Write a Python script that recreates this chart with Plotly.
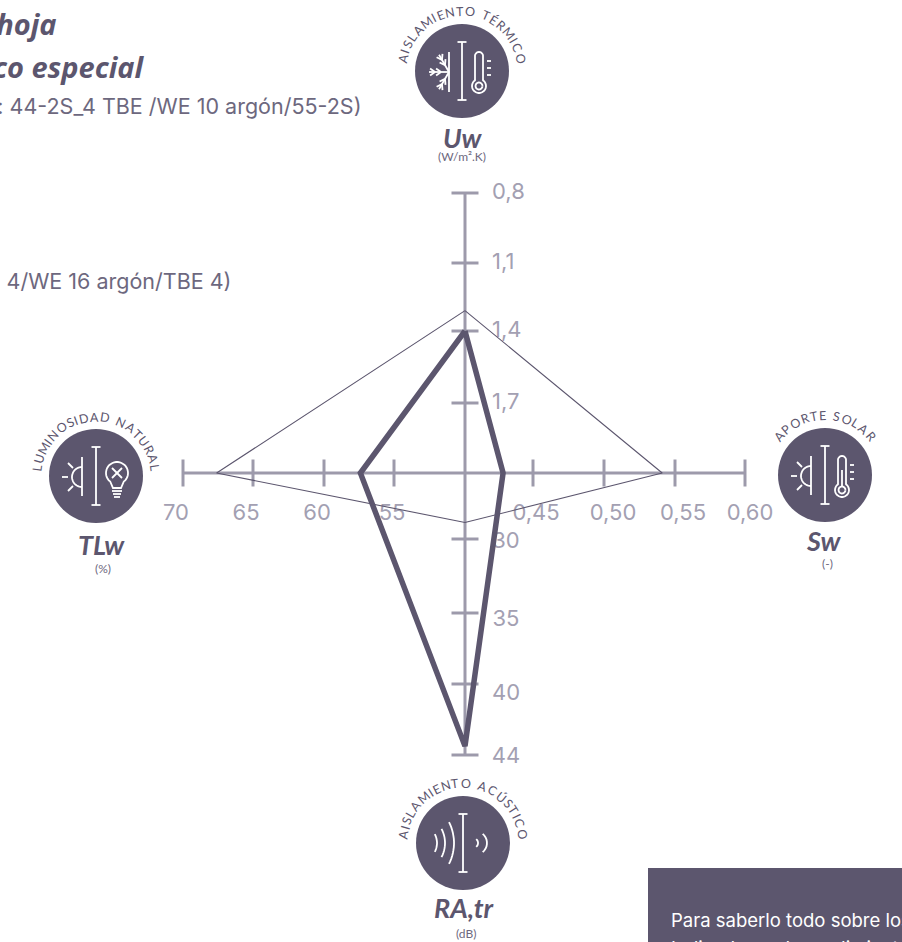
import numpy as np
import plotly.graph_objects as go

# ---------- data ----------
AXES = ["Uw", "Sw", "RA,tr", "TLw"]
UW_TICKS = [0.8, 1.1, 1.4, 1.7]
SW_TICKS = [0.45, 0.50, 0.55, 0.60]
RA_TICKS = [30, 35, 40, 44]
TL_TICKS = [55, 60, 65, 70]
UW_LABELS = ["0,8", "1,1", "1,4", "1,7"]
SW_LABELS = ["0,45", "0,50", "0,55", "0,60"]
RA_LABELS = ["30", "35", "40", "44"]
TL_LABELS = ["55", "60", "65", "70"]
# values in order Uw, Sw, RA,tr, TLw
SPECIAL = [1.40, 0.428, 43.5, 57.4]
STANDARD = [1.31, 0.541, 28.9, 67.6]

# ---------- scales: value -> distance from the centre (px) ----------
def r_uw(v): return float(np.interp(-v, [-2.0, -1.7, -1.4, -1.1, -0.8], [0, 70, 142, 210, 280]))
def r_sw(v): return float(np.interp(v, [0.40, 0.45, 0.50, 0.55, 0.60], [0, 68, 139, 210, 280]))
def r_ra(v): return float(np.interp(v, [25.6, 30, 35, 40, 44], [0, 66, 140, 211, 282]))
def r_tl(v): return float(np.interp(v, [50, 55, 60, 65, 70], [0, 71, 141, 212, 282]))

CX, CY = 465, 473
W, H = 902, 942
DARK = "#5c566e"
AXIS = "#9d9aab"
LABEL = "#a3a0b2"
TEXT = "#6d687e"

def PX(px): return px - CX
def PY(py): return CY - py

def polygon(vals):
    u, s, ra, t = vals
    xs = [0, r_sw(s), 0, -r_tl(t), 0]
    ys = [r_uw(u), 0, -r_ra(ra), 0, r_uw(u)]
    return xs, ys

fig = go.Figure()

def seg(xs, ys, width=3, color=AXIS):
    fig.add_trace(go.Scatter(x=xs, y=ys, mode="lines", line=dict(color=color, width=width),
                             hoverinfo="skip", showlegend=False))

# axes
seg([-r_tl(70), r_sw(0.60)], [0, 0])
seg([0, 0], [-r_ra(44), r_uw(0.8)])
TL = 13.5
for v in UW_TICKS: seg([-TL, TL], [r_uw(v), r_uw(v)])
for v in RA_TICKS: seg([-TL, TL], [-r_ra(v), -r_ra(v)])
for v in SW_TICKS: seg([r_sw(v), r_sw(v)], [-TL, TL])
for v in TL_TICKS: seg([-r_tl(v), -r_tl(v)], [-TL, TL])

# tick labels
def labels(xs, ys, texts, pos="middle center"):
    fig.add_trace(go.Scatter(x=xs, y=ys, mode="text", text=texts, textposition=pos,
                             textfont=dict(family="Inter", size=22, color=LABEL),
                             hoverinfo="skip", showlegend=False))

labels([27] * 4, [r_uw(v) for v in UW_TICKS], UW_LABELS, "middle right")
labels([r_sw(v) + d for v, d in zip(SW_TICKS, [3, 9, 8, 5])], [-41] * 4, SW_LABELS)
labels([41] * 4, [-r_ra(v) - d for v, d in zip(RA_TICKS, [3, 7, 10, 2])], RA_LABELS)
labels([-r_tl(v) - 2 - d for v, d in zip(TL_TICKS, [0, 5, 5, 5])], [-41] * 4, TL_LABELS)

# series
x, y = polygon(STANDARD)
fig.add_trace(go.Scatter(x=x, y=y, mode="lines", line=dict(color=DARK, width=1.1), name="Estándar",
                         showlegend=False, hoverinfo="skip"))
x, y = polygon(SPECIAL)
fig.add_trace(go.Scatter(x=x, y=y, mode="lines", line=dict(color=DARK, width=5.5), name="Especial",
                         showlegend=False, hoverinfo="skip"))

# ---------- icon helpers (offsets in px from the badge centre, y down) ----------
shapes = []
def path(d, width=1.8, color="white"):
    shapes.append(dict(type="path", path=d, xref="x", yref="y", line=dict(color=color, width=width), layer="above"))

def pl(cx, cy, pts, close=False):
    d = "M" + " L".join(f"{PX(cx+a):.1f},{PY(cy+b):.1f}" for a, b in pts)
    path(d + (" Z" if close else ""))

def arc(cx, cy, ox, oy, r, a0, a1, n=24):
    t = np.radians(np.linspace(a0, a1, n))
    pl(cx, cy, [(ox + r * np.cos(i), oy + r * np.sin(i)) for i in t])

def badge(cx, cy, r=47):
    shapes.append(dict(type="circle", xref="x", yref="y", x0=PX(cx - r), x1=PX(cx + r), y0=PY(cy + r), y1=PY(cy - r),
                       fillcolor=DARK, line=dict(width=0), layer="above"))
    pl(cx, cy, [(0, -29), (0, 29)])
    pl(cx, cy, [(-4.5, -29), (4.5, -29)])
    pl(cx, cy, [(-4.5, 29), (4.5, 29)])

def sun(cx, cy):
    pl(cx, cy, [(-14, -19), (-14, 20)])
    arc(cx, cy, -14, 1, 10, 90, 270)
    pl(cx, cy, [(-34, 1), (-28, 1)])
    pl(cx, cy, [(-28, -13), (-23, -8)])
    pl(cx, cy, [(-28, 15), (-23, 10)])

def thermo(cx, cy, ox, fill=False):
    arc(cx, cy, ox, -15, 4, 180, 360)
    arc(cx, cy, ox, 15, 7, -60, 240, 30)
    pl(cx, cy, [(ox - 4, -15), (ox - 4, 9)])
    pl(cx, cy, [(ox + 4, -15), (ox + 4, 9)])
    arc(cx, cy, ox, 15, 3.5, 0, 360, 16)
    pl(cx, cy, [(ox + 8, -10), (ox + 12, -10)])
    pl(cx, cy, [(ox + 8, -3), (ox + 12, -3)])
    pl(cx, cy, [(ox + 8, 4), (ox + 12, 4)])
    if fill:
        pl(cx, cy, [(ox, -5), (ox, 11)])

def snow(cx, cy):
    hy = 1
    pl(cx, cy, [(-13, -19), (-13, 21)])
    for ang in (0, 60, -60):
        a = np.radians(180 + ang)
        ux, uy = np.cos(a), np.sin(a)
        ex, ey = -13 + ux * 20, hy + uy * 20
        pl(cx, cy, [(-13, hy), (ex, ey)])
        for d in (8, 14):
            bx, by = -13 + ux * d, hy + uy * d
            for s in (35, -35):
                b = a + np.radians(180 + s)
                pl(cx, cy, [(bx, by), (bx - np.cos(b) * 6, by - np.sin(b) * 6)])

def bulb(cx, cy):
    arc(cx, cy, 21, -3, 11, 130, 410, 30)
    pl(cx, cy, [(14, 5), (17, 12), (25, 12), (28, 5)])
    pl(cx, cy, [(16, -8), (26, 2)])
    pl(cx, cy, [(26, -8), (16, 2)])
    pl(cx, cy, [(16, 15), (26, 15)])
    pl(cx, cy, [(17, 18), (25, 18)])
    pl(cx, cy, [(18, 21), (24, 21)])

def sound(cx, cy):
    arc(cx, cy, -45, 0, 19, -28, 28, 12)
    arc(cx, cy, -48, 0, 30, -28, 28, 14)
    arc(cx, cy, -55, 0, 46, -27, 27, 16)
    arc(cx, cy, 10, 0, 5, -50, 50, 8)
    arc(cx, cy, 12, 0, 12, -50, 50, 10)

# ---------- text helpers ----------
ann = []
def text(px, py, s, size, color=TEXT, anchor="center", family="Lato", valign="middle"):
    ann.append(dict(x=PX(px), y=PY(py), xref="x", yref="y", text=s, showarrow=False, xanchor=anchor, yanchor=valign,
                    font=dict(family=family, size=size, color=color)))

NARROW = {"I": .42, " ": .5, "L": .72, "E": .78, "T": .8, "M": 1.15, "O": 1.12, "N": 1.02, "A": 1.0, "D": 1.05, "U": 1.0,
          "S": .78, "R": .85, "P": .82, "C": 1.0, "Ú": 1.0, "É": .78}

def curved(cx, cy, s, radius, half_angle, size=12.5):
    w = np.array([NARROW.get(c, 1.0) for c in s])
    edges = np.concatenate([[0], np.cumsum(w)])
    mids = (edges[:-1] + edges[1:]) / 2
    mids = (mids - mids[0]) / (mids[-1] - mids[0]) * 2 - 1
    for c, m in zip(s, mids):
        if c == " ":
            continue
        a = np.radians(m * half_angle)
        px = cx + radius * np.sin(a)
        py = cy - radius * np.cos(a)
        ann.append(dict(x=PX(px), y=PY(py), xref="x", yref="y", text=c, showarrow=False, textangle=float(np.degrees(a)),
                        font=dict(family="Lato", size=size, color=DARK), xanchor="center", yanchor="middle"))

# badges
UW_C = (462, 71); TL_C = (96, 476); SW_C = (825, 475); RA_C = (463, 843)
badge(*UW_C); snow(*UW_C); thermo(*UW_C, 17)
badge(*TL_C); sun(*TL_C); bulb(*TL_C)
badge(*SW_C); sun(*SW_C); thermo(*SW_C, 17, True)
badge(*RA_C); sound(*RA_C)

curved(*UW_C, "AISLAMIENTO TÉRMICO", 60, 78)
curved(*TL_C, "LUMINOSIDAD NATURAL", 59, 82)
curved(*SW_C, "APORTE SOLAR", 60, 50)
curved(*RA_C, "AISLAMIENTO ACÚSTICO", 60, 82)

text(463, 137, "<b><i>Uw</i></b>", 27, DARK)
text(462, 156, "(W/m².K)", 12)
text(101, 544, "<b><i>TLw</i></b>", 27, DARK)
text(103, 568, "(%)", 12)
text(823, 540, "<b><i>Sw</i></b>", 27, DARK)
text(827, 563, "(-)", 12)
text(464, 907, "<b><i>RA,tr</i></b>", 27, DARK)
text(466, 933, "(dB)", 12)

# header block (runs off the left edge of the page)
text(58, 23, "<b><i>Doble hoja</i></b>", 29, DARK, "right", "Open Sans")
text(147, 66, "<b><i>Acústico especial</i></b>", 29, DARK, "right", "Open Sans")
text(363, 106, "(composición: 44-2S_4 TBE /WE 10 argón/55-2S)", 21.5, TEXT, "right", "Inter")
text(233, 281, "(composición: 4/WE 16 argón/TBE 4)", 21.5, TEXT, "right", "Inter")

# call-out box, cut by the page edges
shapes.append(dict(type="rect", xref="x", yref="y", x0=PX(648), x1=PX(W), y0=PY(H), y1=PY(868),
                   fillcolor=DARK, line=dict(width=0), layer="above"))
text(669, 920, "Para saberlo todo sobre los", 18.5, "white", "left", "Inter")
text(669, 935, "Indicadores de rendimiento", 18.5, "white", "left", "Inter", "top")

fig.update_layout(
    width=W, height=H, margin=dict(l=0, r=0, t=0, b=0, pad=0),
    paper_bgcolor="white", plot_bgcolor="white", showlegend=False,
    xaxis=dict(range=[PX(0), PX(W)], visible=False, fixedrange=True),
    yaxis=dict(range=[PY(H), PY(0)], visible=False, fixedrange=True),
    shapes=shapes, annotations=ann,
)
fig.write_html("out.html", config=dict(displayModeBar=False),
               post_script="document.body.style.margin='0';document.documentElement.style.overflow='hidden';")
